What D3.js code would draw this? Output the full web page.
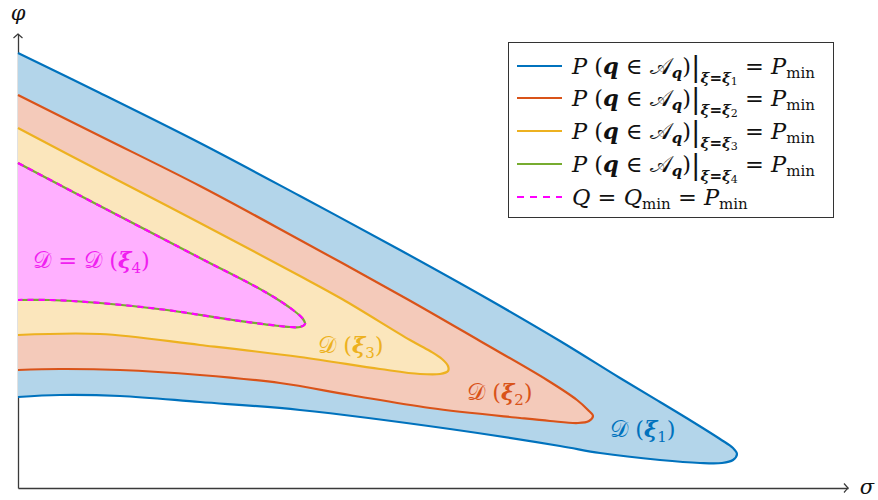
<!DOCTYPE html>
<html><head><meta charset="utf-8">
<script src="https://cdn.jsdelivr.net/npm/d3@7"></script>
<style>body{margin:0;background:#fff}svg{display:block}</style>
</head><body><svg id="chart" width="878" height="500"></svg>
<script>
// Level curves P(q ∈ A_q)|ξ=ξk = Pmin in the (σ, φ) plane.
// Each curve starts on the φ axis, runs along the upper branch,
// turns round the tip and returns along the lower branch.
const sigma1 = [0,0.82,1.82,2.82,3.82,4.70,5.42,6.02,6.42,6.75,7.02,7.15,7.19,7.15,7.04,6.82,6.42,5.82,5.42,4.32,2.82,1.82,1.02,0.42,0];
const phi1   = [4.35,3.95,3.45,2.92,2.38,1.89,1.47,1.10,0.86,0.66,0.49,0.40,0.34,0.28,0.25,0.25,0.28,0.35,0.42,0.59,0.78,0.86,0.92,0.93,0.91];

const sigma2 = [0,0.82,1.82,2.82,3.89,4.62,5.29,5.59,5.70,5.75,5.71,5.60,5.32,5.02,4.12,3.32,2.62,1.82,1.02,0.42,0];
const phi2   = [3.93,3.52,3.02,2.48,1.89,1.47,1.08,0.88,0.78,0.72,0.67,0.65,0.67,0.70,0.80,0.93,1.05,1.13,1.18,1.19,1.18];

const sigma3 = [0,0.82,1.82,2.82,3.24,3.92,4.12,4.24,4.30,4.30,4.22,4.02,3.62,2.82,1.82,0.82,0];
const phi3   = [3.60,3.17,2.65,2.12,1.89,1.48,1.37,1.29,1.22,1.17,1.14,1.14,1.19,1.31,1.43,1.54,1.53];

const sigma4 = [0,0.82,1.82,2.49,2.75,2.85,2.87,2.82,2.72,2.15,1.49,0.82,0.32,0];
const phi4   = [3.25,2.82,2.30,1.95,1.78,1.69,1.64,1.61,1.61,1.68,1.78,1.85,1.88,1.88];

const xiIndex = ["1","2","3","4"];
const lineColors = ["#0072BD","#D95319","#EDB120","#77AC30"];
const fillColors = ["#B3D5EA","#F4CABA","#FBE6BC","#FFB0FF"];
const qColor = "#FF00FF";
const regionLabelColors = ["#0072BD","#D95319","#EDB120","#F020F0"];

const svg = d3.select("#chart");
const x = d3.scaleLinear().domain([0, 8.3]).range([18, 848]);
const y = d3.scaleLinear().domain([0, 4.58]).range([488, 30]);

const serif = "'DejaVu Serif', 'Liberation Serif', serif";

// axes without ticks
const axisColor = "#3a3a3a";
const yTop = 4.54;
const yAxisScale = y.copy().domain([0, yTop]).range([y(0), y(yTop)]);
svg.append("g").attr("transform", `translate(0,${y(0)})`)
  .call(d3.axisBottom(x).tickValues([]).tickSizeOuter(0))
  .select(".domain").attr("stroke", axisColor).attr("stroke-width", 1.3);
svg.append("g").attr("transform", `translate(${x(0)},0)`)
  .call(d3.axisLeft(yAxisScale).tickValues([]).tickSizeOuter(0))
  .select(".domain").attr("stroke", axisColor).attr("stroke-width", 1.3);

// arrow heads
const ax = x(8.3), ay = y(0), bx = x(0), by = y(yTop);
svg.append("path")
  .attr("d", `M${ax-4},${ay-4.5} Q${ax-1},${ay-1} ${ax},${ay} Q${ax-1},${ay+1} ${ax-4},${ay+4.5}`)
  .attr("fill", "none").attr("stroke", axisColor).attr("stroke-width", 1.2);
svg.append("path")
  .attr("d", `M${bx-4.5},${by+4} Q${bx-1},${by+1} ${bx},${by} Q${bx+1},${by+1} ${bx+4.5},${by+4}`)
  .attr("fill", "none").attr("stroke", axisColor).attr("stroke-width", 1.2);

svg.append("text").attr("x", x(8.3) + 19).attr("y", y(0) + 6)
  .attr("text-anchor", "middle").attr("font-family", serif).attr("font-style", "italic")
  .attr("font-size", 21).attr("fill", "#111").text("σ");
svg.append("text").attr("x", x(0)).attr("y", 20)
  .attr("text-anchor", "middle").attr("font-family", serif).attr("font-style", "italic")
  .attr("font-size", 21).attr("fill", "#111").text("φ");

// regions
const curves = [[sigma1, phi1],[sigma2, phi2],[sigma3, phi3],[sigma4, phi4]];
const line = d3.line().x(d => x(d[0])).y(d => y(d[1])).curve(d3.curveCatmullRom.alpha(0.5));

curves.forEach(([s, p], i) => {
  const pts = s.map((v, k) => [v, p[k]]);
  svg.append("path").attr("d", line(pts) + "Z")
    .attr("fill", fillColors[i]).attr("stroke", "none");
  svg.append("path").attr("d", line(pts))
    .attr("fill", "none").attr("stroke", lineColors[i]).attr("stroke-width", 2.2)
    .attr("stroke-linejoin", "round");
  if (i === 3) {
    svg.append("path").attr("d", line(pts))
      .attr("fill", "none").attr("stroke", qColor).attr("stroke-width", 2.2)
      .attr("stroke-dasharray", "6,5");
  }
});

// region labels 𝒟(ξk)
function regionLabel(px, py, color, idx, prefix) {
  const t = svg.append("text").attr("x", px).attr("y", py)
    .attr("font-family", serif).attr("font-size", 22.5).attr("fill", color);
  if (prefix) t.append("tspan").text("𝒟 = ");
  t.append("tspan").text("𝒟 (");
  t.append("tspan").attr("font-weight", "bold").attr("font-style", "italic").text("ξ");
  t.append("tspan").attr("font-size", 15).attr("y", py + 5).text(idx);
  t.append("tspan").attr("y", py).text(")");
}
regionLabel(x(3.0), y(1.35), regionLabelColors[2], xiIndex[2]);
regionLabel(x(4.49), y(0.88), regionLabelColors[1], xiIndex[1]);
regionLabel(x(5.92), y(0.51), regionLabelColors[0], xiIndex[0]);
regionLabel(x(0.15), y(2.2), regionLabelColors[3], xiIndex[3], true);

// legend
const lg = svg.append("g");
lg.append("rect").attr("x", 508.5).attr("y", 42.5).attr("width", 325).attr("height", 175)
  .attr("fill", "#fff").attr("stroke", "#333").attr("stroke-width", 1);

const rowY = [66, 98, 131, 164, 197];
const fs = 22.5, sub = 15;
function legendRow(row) {
  return lg.append("text").attr("x", 572).attr("y", rowY[row] + 8)
    .attr("font-family", serif).attr("font-size", fs).attr("fill", "#111");
}
xiIndex.forEach((k, i) => {
  const ly = rowY[i];
  lg.append("line").attr("x1", 517).attr("x2", 562).attr("y1", ly).attr("y2", ly)
    .attr("stroke", lineColors[i]).attr("stroke-width", 2);
  const b = ly + 8;
  const t = legendRow(i);
  t.append("tspan").attr("font-style", "italic").text("P");
  t.append("tspan").text(" (");
  t.append("tspan").attr("font-style", "italic").attr("font-weight", "bold").text("q");
  t.append("tspan").text(" ∈ 𝒜");
  t.append("tspan").attr("font-style", "italic").attr("font-weight", "bold").attr("font-size", sub).attr("y", b + 4).text("q");
  t.append("tspan").attr("y", b).text(")");
  t.append("tspan").attr("font-size", 28).attr("y", b + 2).text("|");
  t.append("tspan").attr("font-weight", "bold").attr("font-style", "italic").attr("font-size", sub).attr("y", b + 9).text("ξ");
  t.append("tspan").attr("font-weight", "bold").attr("font-size", sub).text("=");
  t.append("tspan").attr("font-weight", "bold").attr("font-style", "italic").attr("font-size", sub).text("ξ");
  t.append("tspan").attr("font-size", 11).attr("y", b + 11).text(k);
  t.append("tspan").attr("y", b).text(" = ");
  t.append("tspan").attr("font-style", "italic").text("P");
  t.append("tspan").attr("font-size", sub).attr("y", b + 4).text("min");
});
{
  const ly = rowY[4];
  lg.append("line").attr("x1", 517).attr("x2", 562).attr("y1", ly).attr("y2", ly)
    .attr("stroke", qColor).attr("stroke-width", 2).attr("stroke-dasharray", "7,6");
  const b = ly + 8;
  const t = legendRow(4);
  t.append("tspan").attr("font-style", "italic").text("Q");
  t.append("tspan").text(" = ");
  t.append("tspan").attr("font-style", "italic").text("Q");
  t.append("tspan").attr("font-size", sub).attr("y", b + 4).text("min");
  t.append("tspan").attr("y", b).text(" = ");
  t.append("tspan").attr("font-style", "italic").text("P");
  t.append("tspan").attr("font-size", sub).attr("y", b + 4).text("min");
}
</script></body></html>
